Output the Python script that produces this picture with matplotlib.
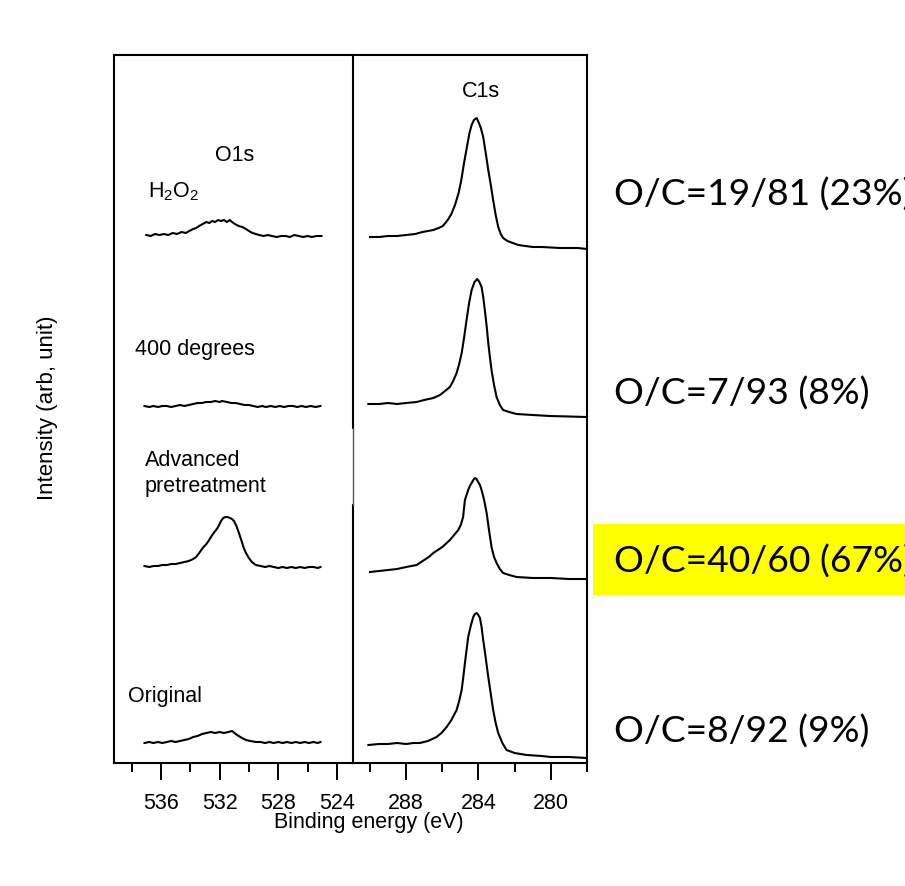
import matplotlib
matplotlib.use("Agg")
import matplotlib.pyplot as plt
from matplotlib.patches import Rectangle

plt.rcParams['font.family'] = ['Liberation Sans', 'DejaVu Sans']
plt.rcParams['mathtext.fontset'] = 'custom'
plt.rcParams['mathtext.rm'] = 'Liberation Sans'

# ---- data (stacked intensity, arb. units) ----
samples = ['H$_2$O$_2$', '400 degrees', 'Advanced\npretreatment', 'Original']
ratios = ['O/C=19/81 (23%)', 'O/C=7/93 (8%)', 'O/C=40/60 (67%)', 'O/C=8/92 (9%)']

# O1s region
o1s_h2o2_e = [537.0, 536.7, 536.4, 536.1, 535.8, 535.5, 535.2, 534.9, 534.6, 534.3, 534.07, 533.8,
              533.6, 533.39, 533.15, 532.9, 532.7, 532.51, 532.3, 532.1, 531.9, 531.7, 531.5, 531.3,
              531.15, 530.95, 530.7, 530.45, 530.2, 530.0, 529.75, 529.53, 529.3, 529.0, 528.7,
              528.44, 528.1, 527.8, 527.5, 527.2, 526.9, 526.6, 526.3, 526.0, 525.7, 525.4, 525.05]
o1s_h2o2_i = [528, 527, 529, 528, 529, 528, 530, 529, 531, 530, 532, 534,
              535, 537, 539, 541, 540, 542, 541, 543, 542, 543, 541, 543,
              541, 539, 537, 536, 534, 532, 530, 529, 528, 527, 528,
              527, 526, 527, 527, 526, 528, 527, 526, 527, 526, 527, 527]
o1s_400_e = [537.12, 536.8, 536.5, 536.2, 535.9, 535.6, 535.3, 535.0, 534.7, 534.4, 534.1, 533.8,
             533.5, 533.2, 532.92, 532.6, 532.3, 532.0, 531.83, 531.5, 531.2, 530.9, 530.6, 530.3,
             530.0, 529.7, 529.4, 529.1, 528.85, 528.5, 528.2, 527.9, 527.6, 527.3, 527.0, 526.7,
             526.4, 526.1, 525.8, 525.45, 525.12]
o1s_400_i = [357, 356, 357, 356, 357, 357, 356, 357, 358, 357, 358, 359,
             360, 360, 361, 361, 362, 361, 362, 361, 360, 360, 359, 358,
             358, 357, 356, 357, 356, 357, 356, 357, 356, 357, 357, 356,
             357, 356, 357, 356, 357]
o1s_adv_e = [537.12, 536.8, 536.5, 536.2, 535.9, 535.6, 535.3, 535.0, 534.7, 534.4, 534.1, 533.8,
             533.6, 533.39, 533.15, 532.9, 532.71, 532.5, 532.35, 532.24, 532.1, 531.9, 531.75,
             531.6, 531.45, 531.3, 531.15, 531.02, 530.85, 530.68, 530.5, 530.35, 530.2, 530.0,
             529.8, 529.53, 529.2, 528.9, 528.6, 528.3, 528.0, 527.7, 527.4, 527.1, 526.8, 526.5,
             526.2, 525.9, 525.6, 525.3, 525.12]
o1s_adv_i = [197, 196, 197, 197, 198, 198, 199, 199, 200, 201, 202, 204,
             206, 210, 215, 219, 223, 228, 231, 233, 236, 242, 245,
             246, 246, 245, 244, 242, 237, 230, 222, 215, 210, 205,
             201, 198, 197, 196, 197, 196, 195, 196, 195, 196, 195, 196,
             195, 196, 196, 195, 196]
o1s_orig_e = [537.12, 536.8, 536.5, 536.2, 535.9, 535.6, 535.3, 535.0, 534.7, 534.4, 534.1, 533.8,
              533.5, 533.19, 532.9, 532.6, 532.3, 532.0, 531.7, 531.4, 531.15, 530.9, 530.7, 530.47,
              530.2, 529.9, 529.53, 529.2, 528.9, 528.6, 528.3, 528.0, 527.7, 527.4, 527.1, 526.8,
              526.5, 526.2, 525.9, 525.6, 525.3, 525.12]
o1s_orig_i = [20, 21, 20, 21, 20, 21, 22, 21, 22, 23, 24, 26,
              27, 29, 30, 31, 30, 31, 30, 31, 32, 29, 27, 25,
              23, 22, 21, 21, 20, 21, 20, 21, 20, 21, 20, 21,
              20, 21, 20, 21, 20, 21]

# C1s region
c1s_h2o2_e = [290.0, 289.5, 289.0, 288.5, 288.0, 287.5, 287.1, 286.8, 286.5, 286.2, 285.97, 285.7,
              285.5, 285.3, 285.1, 284.95, 284.8, 284.64, 284.5, 284.38, 284.25, 284.1, 284.0,
              283.87, 283.74, 283.6, 283.46, 283.32, 283.19, 283.05, 282.91, 282.77, 282.64,
              282.4, 282.1, 281.8, 281.4, 281.0, 280.5, 280.0, 279.5, 279.0, 278.5, 278.0]
c1s_h2o2_i = [526, 526, 527, 527, 528, 529, 531, 532, 533, 535, 537, 543,
              549, 558, 570, 583, 600, 616, 630, 638, 643, 645, 641,
              635, 626, 610, 593, 578, 563, 548, 536, 529, 525,
              522, 520, 518, 517, 516, 516, 515.5, 515, 515, 515, 514]
c1s_400_e = [290.09, 289.5, 289.0, 288.5, 288.0, 287.42, 287.0, 286.5, 286.13, 285.85, 285.58,
             285.4, 285.21, 285.07, 284.93, 284.8, 284.66, 284.52, 284.38, 284.22, 284.07, 283.95,
             283.83, 283.74, 283.65, 283.55, 283.46, 283.37, 283.28, 283.14, 283.0, 282.82,
             282.64, 282.3, 281.9, 281.0, 280.06, 279.0, 278.03]
c1s_400_i = [359, 359, 360, 359, 360, 361, 363, 365, 368, 372, 376,
             382, 390, 399, 410, 425, 443, 460, 473, 481, 484, 481,
             476, 466, 453, 437, 420, 406, 393, 378, 366, 358,
             353, 351, 349, 348, 347, 346.5, 346]
c1s_adv_e = [290.0, 289.5, 289.0, 288.5, 288.0, 287.42, 287.0, 286.75, 286.5, 286.0, 285.58,
             285.35, 285.12, 284.98, 284.85, 284.8, 284.75, 284.66, 284.57, 284.48, 284.38, 284.29,
             284.2, 284.11, 284.02, 283.92, 283.83, 283.69, 283.55, 283.42, 283.28, 283.14, 283.0,
             282.82, 282.64, 282.3, 281.9, 281.0, 280.0, 279.0, 278.03]
c1s_adv_i = [191, 192, 193, 194, 196, 198, 203, 206, 210, 216, 223,
             228, 233, 238, 246, 255, 263, 268, 273, 277, 280, 283,
             285, 284, 281, 278, 273, 263, 250, 233, 216, 206, 200,
             194, 190, 188, 186, 185, 185, 184, 184]
c1s_orig_e = [290.09, 289.5, 289.0, 288.5, 288.0, 287.6, 287.24, 286.8, 286.32, 286.05, 285.76,
              285.5, 285.21, 285.07, 284.93, 284.84, 284.75, 284.66, 284.57, 284.43, 284.29, 284.2,
              284.1, 284.01, 283.92, 283.83, 283.74, 283.6, 283.46, 283.32, 283.19, 283.05, 282.91,
              282.68, 282.45, 282.0, 281.34, 280.5, 280.0, 279.0, 278.03]
c1s_orig_i = [18, 19, 19, 20, 19, 20, 20, 22, 26, 30, 36,
              43, 53, 62, 73, 86, 100, 113, 126, 137, 146, 149,
              150, 148, 145, 136, 123, 105, 86, 69, 53, 40, 30,
              20, 13, 10, 8, 7, 6, 6, 5]

o1s_traces = [(o1s_h2o2_e, o1s_h2o2_i), (o1s_400_e, o1s_400_i),
              (o1s_adv_e, o1s_adv_i), (o1s_orig_e, o1s_orig_i)]
c1s_traces = [(c1s_h2o2_e, c1s_h2o2_i), (c1s_400_e, c1s_400_i),
              (c1s_adv_e, c1s_adv_i), (c1s_orig_e, c1s_orig_i)]

W, H = 905, 886


def fx(x):
    return x / W


def fy(y):
    return 1 - y / H


fig = plt.figure(figsize=(9.05, 8.86), dpi=100)
ax1 = fig.add_axes([fx(114), fy(763), fx(353) - fx(114), fy(55) - fy(763)])
ax2 = fig.add_axes([fx(353), fy(763), fx(587) - fx(353), fy(55) - fy(763)])
ax2.patch.set_visible(False)

for e, i in o1s_traces:
    ax1.plot(e, i, color='black', lw=1.5, solid_joinstyle='round')
for e, i in c1s_traces:
    ax2.plot(e, i, color='black', lw=1.5, solid_joinstyle='round')

ax1.set_xlim(539.2, 522.9)
ax2.set_xlim(290.94, 278.0)
for ax in (ax1, ax2):
    ax.set_ylim(0, 708)
    ax.set_yticks([])
    for s in ax.spines.values():
        s.set_linewidth(1.5)
    ax.tick_params(axis='x', which='major', direction='out', length=12.5, width=1.4,
                   labelsize=15.5, pad=9)
    ax.tick_params(axis='x', which='minor', direction='out', length=6.5, width=1.4)

ax1.set_xticks([536, 532, 528, 524])
ax1.set_xticks([538, 534, 530, 526], minor=True)
ax2.set_xticks([288, 284, 280])
ax2.set_xticks([290, 286, 282, 278], minor=True)

# divider between the two panels, thinner in the middle
ax1.spines['right'].set_visible(False)
ax2.spines['left'].set_visible(False)
gap_lo, gap_hi = (763 - 505) / 708, (763 - 428) / 708
ax2.plot([0, 0], [0, gap_lo], transform=ax2.transAxes, color='black', lw=1.5, clip_on=False)
ax2.plot([0, 0], [gap_hi, 1], transform=ax2.transAxes, color='black', lw=1.5, clip_on=False)
ax2.plot([0, 0], [gap_lo, gap_hi], transform=ax2.transAxes, color='#555555', lw=1.0,
         clip_on=False, zorder=5)

# region & sample labels
fs = 15.5
fig.text(fx(235), fy(161), 'O1s', fontsize=fs, ha='center', va='baseline')
fig.text(fx(481), fy(97), 'C1s', fontsize=fs, ha='center', va='baseline')
label_pos = [(148, 197), (135, 355), (145, 492), (128, 702)]
for lab, (x, y) in zip(samples, label_pos):
    fig.text(fx(x), fy(y), lab, fontsize=fs, ha='left', va='baseline', linespacing=1.3)

fig.text(fx(369), fy(828), 'Binding energy (eV)', fontsize=fs, ha='center', va='baseline')
fig.text(fx(48), fy(408), 'Intensity (arb, unit)', fontsize=16, rotation=90,
         ha='center', va='center')

# O/C ratio annotations (the longer ones run off the right edge, as in the original slide)
fig.add_artist(Rectangle((fx(593), fy(595)), fx(905) - fx(593), fy(524) - fy(595),
                         transform=fig.transFigure, facecolor='#ffff00', edgecolor='none'))
ratio_pos = [206, 405, 573, 743]
for txt, y in zip(ratios, ratio_pos):
    fig.text(fx(614), fy(y), txt, fontsize=26.8, ha='left', va='baseline',
             family=['Lato', 'DejaVu Sans'])

fig.savefig('out.png', dpi=100)
